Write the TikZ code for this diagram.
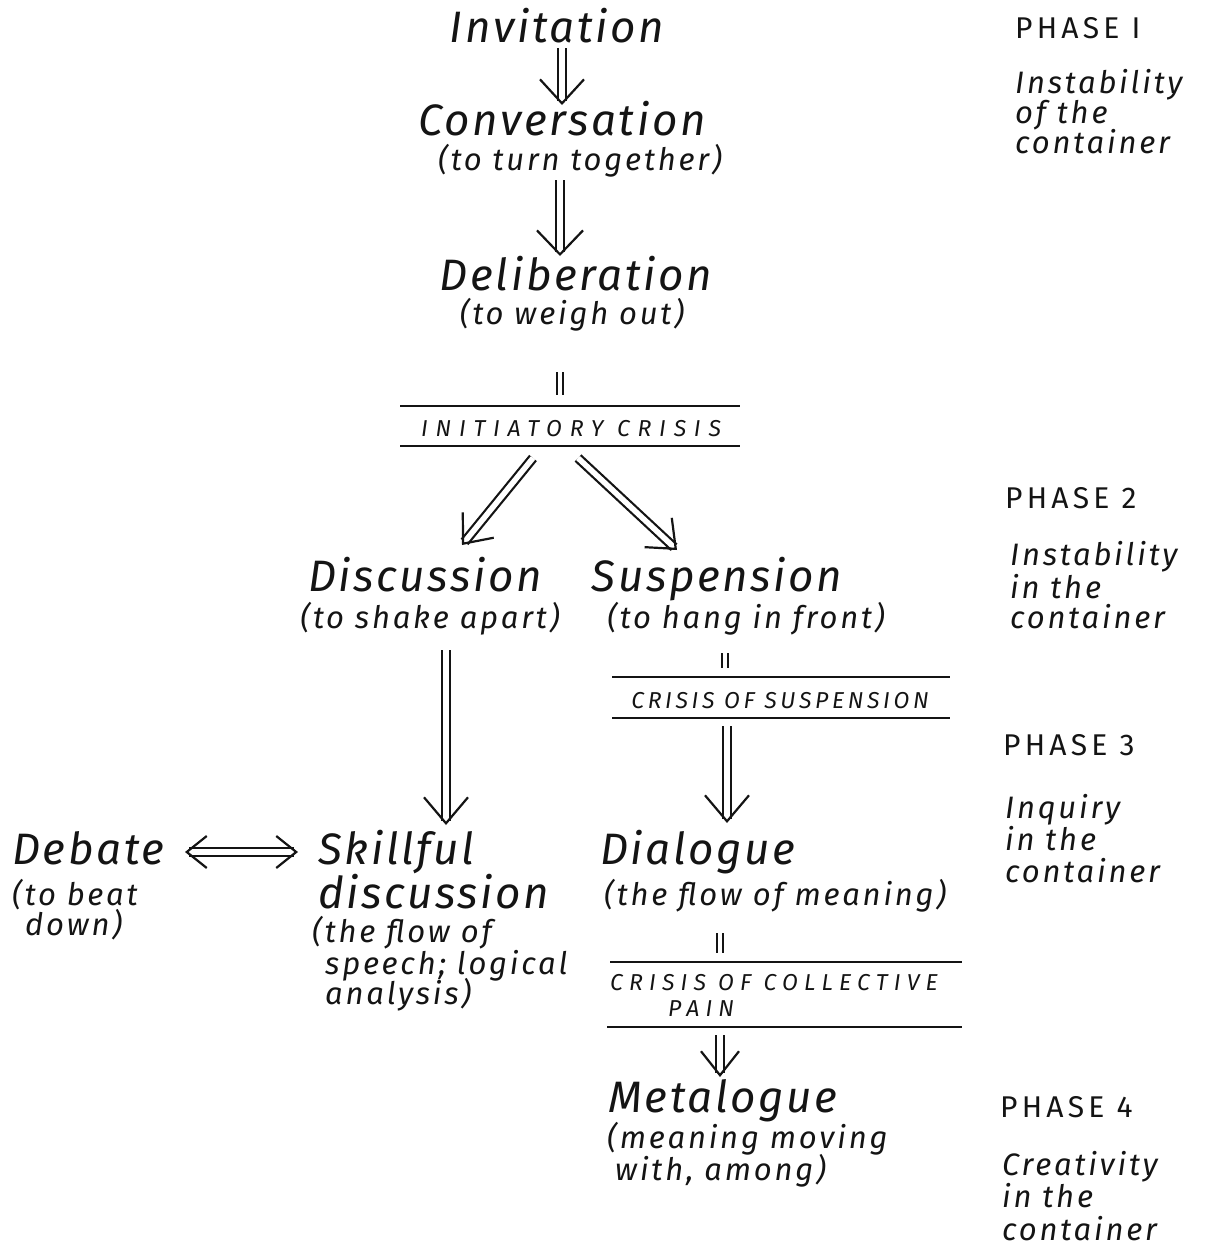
\documentclass[tikz,border=0pt]{standalone}
\usepackage{fontspec}
\setmainfont{Fira Sans}
\usetikzlibrary{arrows.meta,calc}
\definecolor{ink}{RGB}{20,20,20}
\newcommand\DArrow[4][]{%
  \draw[shaft,#1] #2 -- #3;
  \draw[tipline,-{Straight Barb[color=ink,#4]}] #2 -- #3;}
\begin{document}
\begin{tikzpicture}[x=1pt,y=-1pt,
  every node/.style={inner sep=0pt,text=ink},
  title/.style={anchor=base,font=\fontsize{44}{48}\selectfont\itshape\addfontfeatures{LetterSpace=6}},
  sub/.style={anchor=base,font=\fontsize{31}{34}\selectfont\itshape\addfontfeatures{LetterSpace=9}},
  caps/.style={anchor=base,font=\fontsize{23}{26}\selectfont\itshape\addfontfeatures{LetterSpace=#1}},
  phase/.style={anchor=base west,font=\fontsize{30}{32}\selectfont\addfontfeatures{LetterSpace=14}},
  shaft/.style={draw=ink,line width=2.2pt,double=white,double distance=5.5pt,shorten >=4pt},
  tipline/.style={draw=white,line width=2.2pt},
  tick/.style={draw=ink,line width=2.2pt,double=white,double distance=4pt},
  rule/.style={draw=ink,line width=2.4pt}]
\fill[white] (0,0) rectangle (1205,1250);
\useasboundingbox (0,0) rectangle (1205,1250);

% ---- main column ----
\node[title] (inv) at (557,42) {Invitation};
\node[title] (conv) at (562,135) {Conversation};
\node[sub] (convs) at (580,170) {(to turn together)};
\node[title] (delib) at (576,290) {Deliberation};
\node[sub] (delibs) at (572,324) {(to weigh out)};
\node[caps=34] (ic) at (571,436) {INITIATORY CRISIS};

\node[title] (disc) at (425,591) {Discussion};
\node[sub] (discs) at (430,628) {(to shake apart)};
\node[title] (susp) at (717,591) {Suspension};
\node[sub] (susps) at (746,628) {(to hang in front)};
\node[caps=16] (cs) at (780,708) {CRISIS OF SUSPENSION};

\node[title,anchor=base west] (deb) at (12,864) {Debate};
\node[sub,anchor=base west] (debs1) at (12,905) {(to beat};
\node[sub,anchor=base west] (debs2) at (25,935) {down)};

\node[title,anchor=base west] (skill) at (318,864) {Skillful};
\node[title,anchor=base west] (skill2) at (318,908) {discussion};
\node[sub,anchor=base west] (sk1) at (312,942) {(the flow of};
\node[sub,anchor=base west] (sk2) at (325,974) {speech; logical};
\node[sub,anchor=base west] (sk3) at (325,1004) {analysis)};

\node[title,anchor=base west] (dial) at (600,864) {Dialogue};
\node[sub,anchor=base west] (dials) at (604,905) {(the flow of meaning)};
\node[caps=27,anchor=base west] (ccp1) at (610,990) {CRISIS OF COLLECTIVE};
\node[caps=27,anchor=base west] (ccp2) at (668,1016) {PAIN};
\node[title,anchor=base west] (meta) at (608,1112) {Metalogue};
\node[sub,anchor=base west] (met1) at (607,1148) {(meaning moving};
\node[sub,anchor=base west] (met2) at (615,1180) {with, among)};

% ---- phases ----
\node[phase] (ph1) at (1015,38) {PHASE I};
\node[sub,anchor=base west] (ph1a) at (1015,93) {Instability};
\node[sub,anchor=base west] (ph1b) at (1015,123) {of the};
\node[sub,anchor=base west] (ph1c) at (1015,153) {container};
\node[phase] (ph2) at (1005,508) {PHASE 2};
\node[sub,anchor=base west] (ph2a) at (1010,565) {Instability};
\node[sub,anchor=base west] (ph2b) at (1010,598) {in the};
\node[sub,anchor=base west] (ph2c) at (1010,628) {container};
\node[phase] (ph3) at (1003,755) {PHASE 3};
\node[sub,anchor=base west] (ph3a) at (1005,818) {Inquiry};
\node[sub,anchor=base west] (ph3b) at (1005,850) {in the};
\node[sub,anchor=base west] (ph3c) at (1005,882) {container};
\node[phase] (ph4) at (1000,1117) {PHASE 4};
\node[sub,anchor=base west] (ph4a) at (1002,1175) {Creativity};
\node[sub,anchor=base west] (ph4b) at (1002,1207) {in the};
\node[sub,anchor=base west] (ph4c) at (1002,1240) {container};

% ---- crisis rules ----
\draw[rule] ($(ic.base)+(-171,-30)$) -- ($(ic.base)+(169,-30)$);
\draw[rule] ($(ic.base)+(-171,10)$) -- ($(ic.base)+(169,10)$);
\draw[rule] ($(cs.base)+(-168,-31)$) -- ($(cs.base)+(170,-31)$);
\draw[rule] ($(cs.base)+(-168,10)$) -- ($(cs.base)+(170,10)$);
\draw[rule] ($(ccp1.base west)+(0,-28)$) -- ($(ccp1.base west)+(352,-28)$);
\draw[rule] ($(ccp2.base west)+(-61,11)$) -- ($(ccp2.base west)+(294,11)$);

% ---- ticks ----
\draw[tick] ($(delibs.base)+(-12,48)$) -- ($(delibs.base)+(-12,71)$);
\draw[tick] ($(susps.base)+(-21,25)$) -- ($(susps.base)+(-21,40)$);
\draw[tick] ($(dials.base west)+(116,28)$) -- ($(dials.base west)+(116,48)$);

% ---- arrows ----
\DArrow{($(inv.base)+(5,6)$)}{($(conv.base)+(0,-30)$)}{length=24pt,width=44pt}
\DArrow{($(convs.base)+(-20,10)$)}{($(delib.base)+(-16,-34)$)}{length=24pt,width=46pt}
\DArrow{($(ic.base)+(-38,22)$)}{($(disc.base)+(37,-46)$)}{length=24pt,width=40pt}
\DArrow{($(ic.base)+(7,22)$)}{($(susp.base)+(-40,-41)$)}{length=24pt,width=40pt}
\DArrow{($(discs.base)+(16,22)$)}{($(skill.base west)+(128,-39)$)}{length=26pt,width=44pt}
\DArrow{($(cs.base)+(-53,18)$)}{($(dial.base west)+(127,-41)$)}{length=26pt,width=44pt}
\DArrow{($(ccp2.base west)+(52,19)$)}{($(meta.base west)+(112,-35)$)}{length=24pt,width=38pt}
% double-headed
\draw[shaft,shorten <=4pt] ($(deb.base west)+(173,-12)$) -- ($(skill.base west)+(-20,-12)$);
\draw[tipline,{Straight Barb[color=ink,length=20pt,width=32pt]}-{Straight Barb[color=ink,length=20pt,width=32pt]}]
  ($(deb.base west)+(173,-12)$) -- ($(skill.base west)+(-20,-12)$);
\end{tikzpicture}
\end{document}
